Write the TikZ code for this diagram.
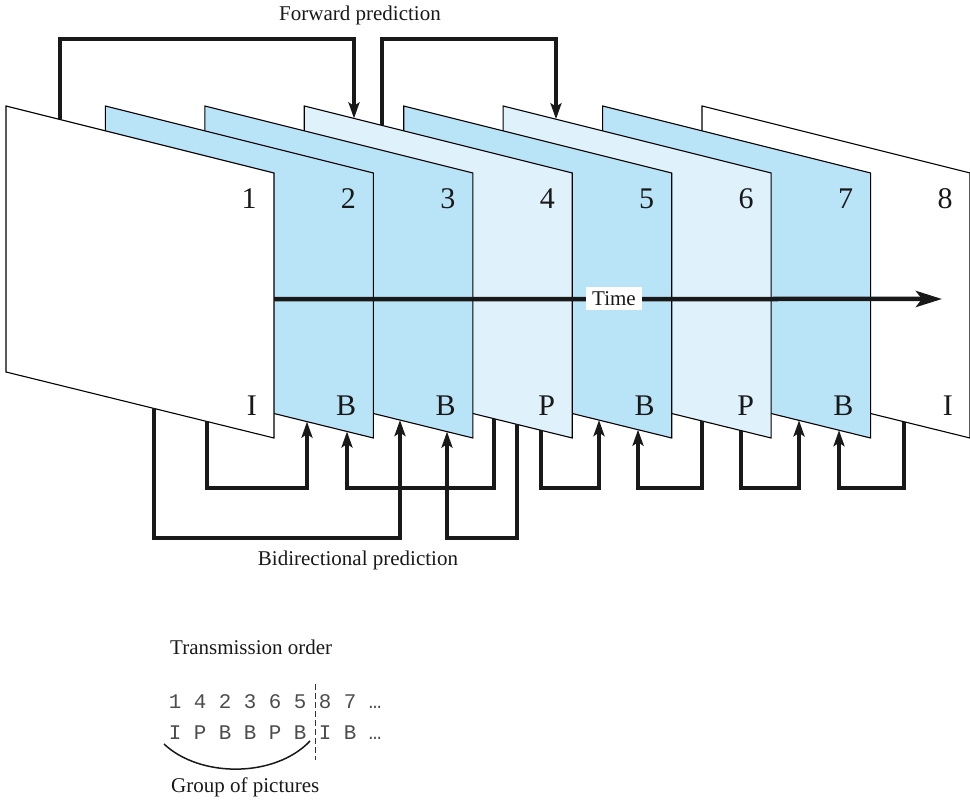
\documentclass[tikz,border=0pt]{standalone}
\usepackage{fontspec}
\setmainfont{Liberation Serif}
\newfontfamily\seqfont{Liberation Mono}
\usetikzlibrary{calc,arrows.meta}
\definecolor{bfill}{RGB}{185,228,247}
\definecolor{pfill}{RGB}{223,241,251}
\tikzset{
  framebox/.style={draw=black,line width=1.1pt,line join=miter},
  conn/.style={draw=black!90,line width=3.1pt,line join=miter,-{Stealth[length=16pt,width=11pt,inset=3.5pt]}},
  numlabel/.style={font=\fontsize{30}{34}\selectfont,inner sep=0pt,anchor=base,text=black!90},
  typelabel/.style={font=\fontsize{30}{34}\selectfont,inner sep=0pt,anchor=base east,text=black!90},
  caption/.style={font=\fontsize{21}{25}\selectfont,inner sep=0pt,text=black!90},
  seqtext/.style={font=\seqfont\fontsize{20.83}{24}\selectfont,inner sep=0pt,anchor=base west,text=black!70}
}
\begin{document}
\begin{tikzpicture}[x=1pt,y=-1pt]
\useasboundingbox (0,0) rectangle (970,802);
% frames, back to front
\foreach \k/\c/\n/\t in {8/white/8/I,7/bfill/7/B,6/pfill/6/P,5/bfill/5/B,4/pfill/4/P,3/bfill/3/B,2/bfill/2/B,1/white/1/I}{
  \pgfmathsetmacro\L{6+99.4286*(\k-1)}
  \draw[framebox,fill=\c] (\L,106) coordinate (f\k tl) -- ++(268,67) coordinate (f\k tr)
     -- ++(0,265) coordinate (f\k br) -- ++(-268,-66) coordinate (f\k bl) -- cycle;
  \node[numlabel] (num\k) at (\L+268-25,209) {\n};
  \node[typelabel] (typ\k) at (\L+268-17,416) {\t};
}
% time axis
\coordinate (tstart) at ($(f1tr)!0.4755!(f1br)$);
\coordinate (tend) at (942,299);
\draw[line width=4.5pt,black!90,-{Stealth[length=26pt,width=16pt,inset=6pt]}] (tstart) -- (tend);
\node[fill=white,inner xsep=6.5pt,inner ysep=4pt,font=\fontsize{21}{25}\selectfont,text=black!90] (time) at (614,298.5) {Time};
% helper levels
\coordinate (topy) at (0,39);
\coordinate (by1) at (0,488);
\coordinate (by2) at (0,538);
% forward prediction
\coordinate (fa) at ($(f1tl)!0.2015!(f1tr)$);
\coordinate (fb) at ($(f4tl)!0.1855!(f4tr)$);
\coordinate (fc) at ($(f4tl)!0.29!(f4tr)$);
\coordinate (fd) at ($(f6tl)!0.1972!(f6tr)$);
\draw[conn] (fa) -- (fa|-topy) -| (fb);
\draw[conn] (fc) -- (fc|-topy) -| (fd);
\node[caption,anchor=base] (fwd) at (360,21) {Forward prediction};
% bidirectional prediction
\coordinate (s1) at ($(f1bl)!0.5522!(f1br)$);
\coordinate (e1) at ($(f3bl)!0.7281!(f3br)$);
\coordinate (s2) at ($(f1bl)!0.75!(f1br)$);
\coordinate (e2) at ($(f2bl)!0.7521!(f2br)$);
\coordinate (s3) at ($(f4bl)!0.7079!(f4br)$);
\coordinate (e3) at ($(f2bl)!0.9014!(f2br)$);
\coordinate (s4) at ($(f4bl)!0.7937!(f4br)$);
\coordinate (e4) at ($(f3bl)!0.9035!(f3br)$);
\coordinate (s5) at ($(f4bl)!0.8833!(f4br)$);
\coordinate (e5) at ($(f5bl)!0.7287!(f5br)$);
\coordinate (s6) at ($(f6bl)!0.742!(f6br)$);
\coordinate (e6) at ($(f5bl)!0.8742!(f5br)$);
\coordinate (s7) at ($(f6bl)!0.8875!(f6br)$);
\coordinate (e7) at ($(f7bl)!0.733!(f7br)$);
\coordinate (s8) at ($(f8bl)!0.7537!(f8br)$);
\coordinate (e8) at ($(f7bl)!0.8822!(f7br)$);
\draw[conn] (s1) -- (s1|-by2) -| (e1);
\draw[conn] (s2) -- (s2|-by1) -| (e2);
\draw[conn] (s3) -- (s3|-by1) -| (e3);
\draw[conn] (s4) -- (s4|-by2) -| (e4);
\draw[conn] (s5) -- (s5|-by1) -| (e5);
\draw[conn] (s6) -- (s6|-by1) -| (e6);
\draw[conn] (s7) -- (s7|-by1) -| (e7);
\draw[conn] (s8) -- (s8|-by1) -| (e8);
\node[caption,anchor=base] (bidi) at (358,565) {Bidirectional prediction};
% transmission order
\node[caption,anchor=base west] (tord) at (170,654) {Transmission order};
\node[seqtext] (seq1) at (168.75,708) {1 4 2 3 6 5 8 7 …};
\node[seqtext] (seq2) at (168.75,739) {I P B B P B I B …};
\coordinate (dtop) at (315,684);
\coordinate (dbot) at (315,760);
\draw[black!80,line width=1pt,dash pattern=on 6pt off 3pt] (dtop) -- (dbot);
\coordinate (gl) at (164,744);
\coordinate (gr) at (310,741);
\draw[black!90,line width=1.5pt] (gl) .. controls (200,778) and (275,778) .. (gr);
\node[caption,anchor=base west] (gop) at (171,792) {Group of pictures};
\end{tikzpicture}
\end{document}
